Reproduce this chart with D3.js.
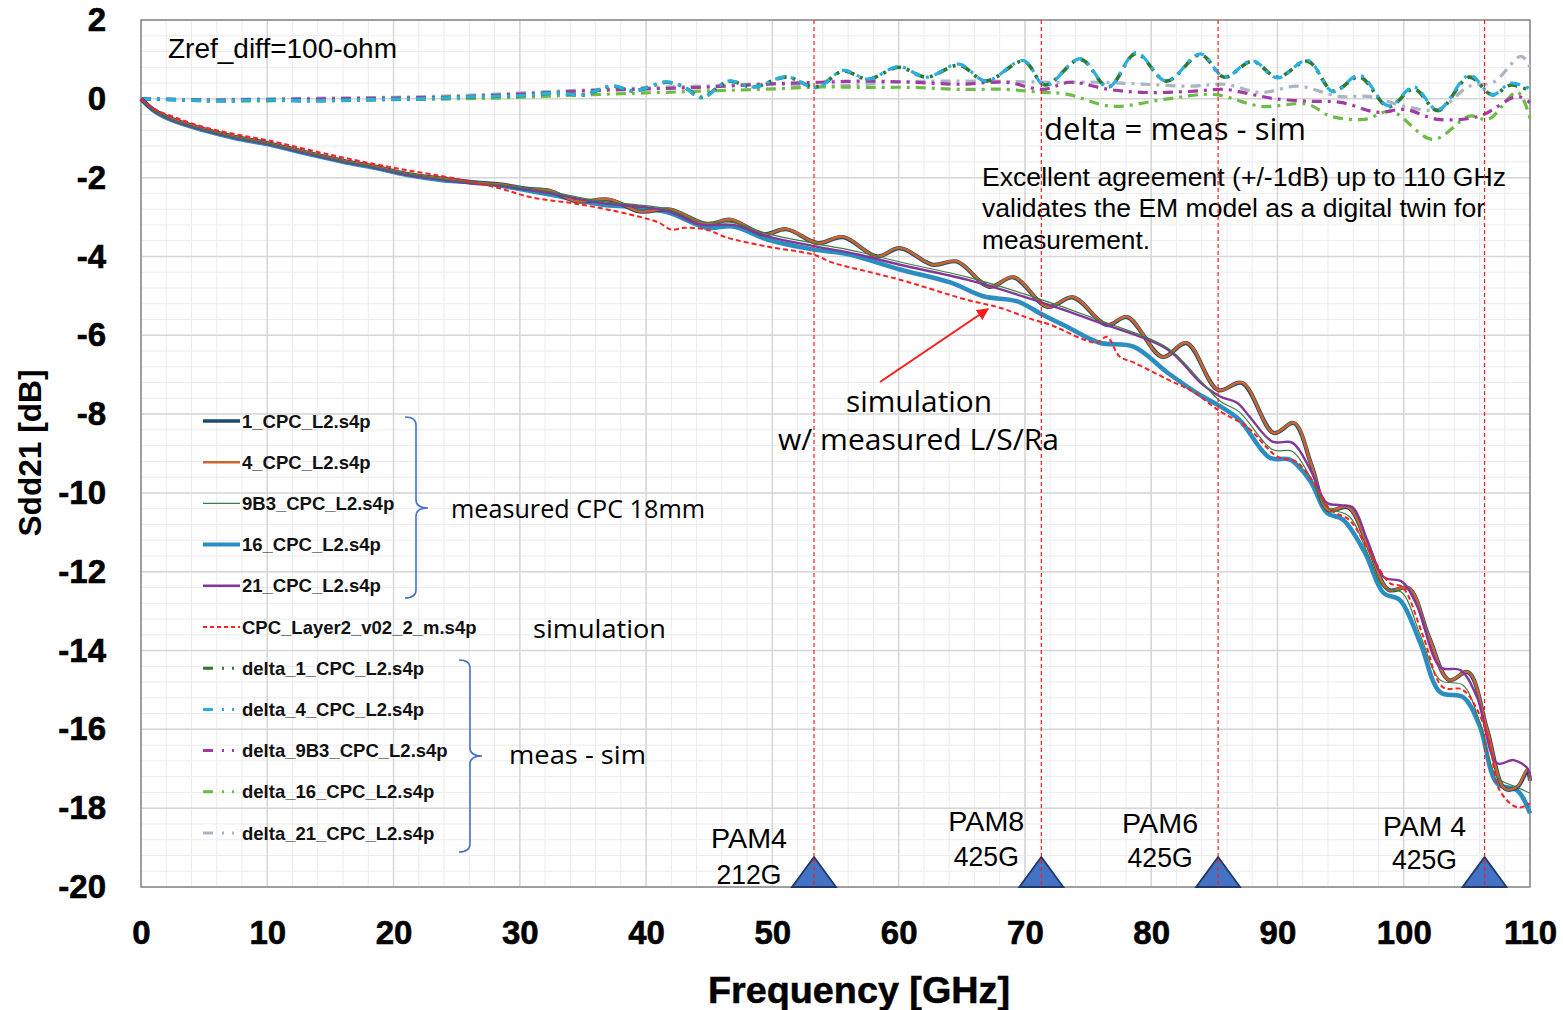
<!DOCTYPE html>
<html><head><meta charset="utf-8">
<script src="https://cdn.jsdelivr.net/npm/d3@7"></script>
<style>body{margin:0;background:#fff}svg{display:block}</style>
</head><body><svg id="c" width="1563" height="1010"></svg>
<script>
// ---------------- DATA ----------------
const xTicks = [0,10,20,30,40,50,60,70,80,90,100,110];
const yTicks = [2,0,-2,-4,-6,-8,-10,-12,-14,-16,-18,-20];

const f_meas1 = [0,1,2.5,5,7.5,10,13,16,18.5,21,24,26.5,28.4,30.5,32.4,34.5,37.1,39.5,41.9,44.8,46.7,49.3,51.1,53.6,55.6,58.3,60.1,62.7,64.6,67.2,69.1,71.8,73.8,76.5,78.1,80.9,82.8,85.3,87.2,89.7,91.3,92.7,94.0,95.6,97.2,98.8,100.4,102.0,103.6,105.1,106.6,108.0,109.0,109.8,110];
const db_meas1 = [0,-0.28,-0.52,-0.77,-0.97,-1.12,-1.35,-1.57,-1.72,-1.9,-2.03,-2.13,-2.17,-2.28,-2.34,-2.6,-2.56,-2.86,-2.81,-3.18,-3.07,-3.44,-3.31,-3.66,-3.51,-4.0,-3.79,-4.21,-4.13,-4.77,-4.53,-5.28,-5.04,-5.74,-5.54,-6.55,-6.2,-7.39,-7.21,-8.48,-8.23,-9.3,-10.43,-10.37,-11.37,-12.46,-12.42,-13.66,-14.75,-14.55,-16.0,-17.5,-17.46,-17.05,-17.3];
const f_meas4 = f_meas1;
const db_meas4 = [0,-0.28,-0.52,-0.77,-0.97,-1.12,-1.35,-1.57,-1.72,-1.9,-2.03,-2.13,-2.17,-2.28,-2.33,-2.6,-2.55,-2.86,-2.8,-3.18,-3.06,-3.44,-3.3,-3.66,-3.5,-4.0,-3.78,-4.21,-4.12,-4.77,-4.52,-5.28,-5.03,-5.74,-5.53,-6.55,-6.19,-7.39,-7.2,-8.48,-8.22,-9.3,-10.43,-10.36,-11.37,-12.46,-12.41,-13.66,-14.75,-14.54,-16.0,-17.5,-17.45,-17.0,-17.3];
const f_meas9B3 = [0,1,2.5,5,7.5,10,13,16,18.5,21,24,26.5,28.4,32.4,36.4,39.0,41.7,44.3,46.9,49.6,53.5,56.8,60.1,65.4,70.6,75.9,81.3,83.9,85.5,87.0,89.6,91.2,92.6,93.9,95.7,97.1,98.4,99.9,101.3,102.9,104.7,106.0,107.4,109.0,110];
const db_meas9B3 = [0,-0.29,-0.53,-0.78,-0.98,-1.13,-1.36,-1.58,-1.73,-1.9,-2.04,-2.14,-2.18,-2.36,-2.6,-2.68,-2.8,-3.12,-3.14,-3.42,-3.68,-3.88,-4.14,-4.52,-5.02,-5.62,-6.32,-7.15,-7.68,-7.95,-8.9,-8.95,-9.6,-10.35,-10.6,-11.5,-12.39,-12.54,-13.6,-14.75,-14.88,-15.8,-17.22,-17.47,-17.62];
const f_meas16 = [0,1,2.5,5,7.5,10,13,16,18.5,21,24,26.5,28.4,32.4,36.4,39.0,41.7,44.8,46.9,49.6,53.2,56.1,60.1,64.1,66.7,69.4,71.4,73.3,75.9,78.6,81.3,83.6,85.5,87.0,89.4,91.0,92.6,93.9,95.2,96.9,98.4,99.7,101.3,102.9,104.7,106.0,107.4,109.0,110];
const db_meas16 = [0,-0.3,-0.55,-0.8,-1.0,-1.15,-1.38,-1.6,-1.75,-1.93,-2.07,-2.12,-2.2,-2.43,-2.68,-2.75,-2.88,-3.27,-3.24,-3.57,-3.82,-3.95,-4.33,-4.66,-5.01,-5.14,-5.48,-5.78,-6.19,-6.29,-6.95,-7.46,-7.81,-8.15,-9.11,-9.16,-9.7,-10.5,-10.68,-11.5,-12.54,-12.72,-13.8,-15.06,-15.18,-15.9,-17.37,-17.55,-18.13];
const f_meas21 = [0,1,2.5,5,7.5,10,13,16,18.5,21,24,26.5,28.4,32.4,36.4,39.0,41.7,44.3,46.9,49.6,53.5,56.8,60.1,65.4,70.6,75.9,81.3,83.9,85.5,86.8,87.8,89.6,91.2,92.6,93.9,95.0,96.0,97.1,98.4,99.9,101.1,102.9,104.5,105.8,107.4,108.7,109.8,110];
const db_meas21 = [0,-0.29,-0.54,-0.79,-0.99,-1.14,-1.37,-1.59,-1.74,-1.92,-2.06,-2.16,-2.2,-2.4,-2.64,-2.72,-2.85,-3.19,-3.2,-3.49,-3.75,-3.95,-4.21,-4.59,-5.09,-5.68,-6.36,-7.2,-7.56,-7.71,-8.07,-8.7,-8.73,-9.41,-10.25,-10.31,-10.38,-11.19,-12.13,-12.26,-12.9,-14.42,-14.5,-15.18,-16.86,-16.78,-16.99,-17.22];
const f_sim = [0,1,2.5,5,7.5,10,15,20,25,28.4,30.9,34.8,38.8,41.0,42.0,43.1,44.8,46.4,49.6,53.2,54.8,57.5,60.1,65.4,68.0,70.6,72.0,74.6,75.7,76.5,77.5,78.6,81.3,83.3,85.5,87.5,90.0,91.5,93.0,94.2,95.7,97.3,98.9,99.9,101.5,103.1,104.7,106.6,107.6,109.0,110];
const db_sim = [0,-0.25,-0.45,-0.72,-0.9,-1.05,-1.42,-1.75,-2.03,-2.27,-2.5,-2.68,-2.94,-3.14,-3.32,-3.27,-3.32,-3.52,-3.75,-3.95,-4.16,-4.38,-4.59,-5.1,-5.3,-5.6,-5.73,-6.1,-6.19,-6.04,-6.54,-6.69,-7.12,-7.43,-7.94,-8.3,-9.08,-9.21,-9.8,-10.43,-10.69,-11.5,-12.29,-12.39,-13.6,-14.93,-15.0,-16.1,-17.55,-17.98,-17.88];

const f_delta1 = [0,3,6,10,14,18,22,26,30,33,35,37.3,39,41.6,43,44.4,46.5,48.5,51.1,53.5,55.6,57.6,60.0,62.2,64.8,66.9,69.9,71.6,74.4,76.6,78.8,81.2,83.9,85.8,88.0,90.0,92.4,94.4,96.5,98.8,100.8,102.7,105.2,107.0,108.5,110];
const db_delta1 = [0,-0.02,-0.05,-0.03,-0.05,-0.02,0.0,0.05,0.08,0.15,0.1,0.32,0.2,0.42,0.3,0.04,0.44,0.3,0.55,0.3,0.7,0.5,0.8,0.55,0.85,0.45,0.95,0.35,1.0,0.3,1.15,0.45,1.12,0.55,0.95,0.55,0.95,0.2,0.55,-0.2,0.25,-0.3,0.55,0.1,0.35,0.2];
const f_delta4 = f_delta1;
const db_delta4 = [0,-0.02,-0.05,-0.03,-0.05,-0.02,0.0,0.05,0.08,0.15,0.1,0.33,0.2,0.43,0.3,0.02,0.45,0.3,0.56,0.28,0.72,0.5,0.82,0.55,0.88,0.45,0.97,0.33,1.02,0.3,1.17,0.45,1.14,0.55,0.97,0.53,0.98,0.18,0.6,-0.18,0.3,-0.28,0.6,0.1,0.4,0.25];
const f_delta9B3 = [0,5,10,15,20,25,30,35,40,45,50,53.8,57.4,61.1,64.8,68.5,71.4,73.6,76.6,79.5,83.2,85.8,88.0,89.8,92.4,95.0,97.9,100.1,102.7,106.0,109.0,110];
const db_delta9B3 = [0,-0.03,-0.02,0.0,0.02,0.05,0.12,0.2,0.25,0.3,0.38,0.42,0.45,0.42,0.37,0.42,0.24,0.42,0.24,0.16,0.19,0.24,0.11,0.0,-0.06,-0.09,-0.34,-0.27,-0.52,-0.44,0.06,-0.1];
const f_delta16 = [0,5,10,15,20,25,30,35,40,45,50,53.8,57.4,61.1,64.8,68.5,71.1,73.3,76.9,81.3,85.0,88.7,92.4,94.2,96.9,99.0,102.3,105.2,106.7,109.0,110];
const db_delta16 = [0,-0.05,-0.05,-0.04,-0.02,0.0,0.04,0.1,0.15,0.2,0.25,0.3,0.29,0.29,0.24,0.24,0.17,0.12,-0.19,0.0,0.11,-0.19,-0.14,-0.44,-0.52,-0.32,-1.03,-0.44,-0.52,0.17,-0.5];
const f_delta21 = [0,5,10,15,20,25,30,35,40,45,50,53.8,61.1,68.5,72.2,75.9,79.5,83.2,85.8,88.7,91.6,94.9,97.2,100.1,102.7,105.2,107.1,109.3,110];
const db_delta21 = [0,-0.02,0.0,0.02,0.04,0.08,0.15,0.22,0.28,0.33,0.38,0.32,0.44,0.44,0.42,0.42,0.37,0.32,0.37,0.16,0.32,0.06,0.06,-0.19,-0.27,0.32,0.42,1.08,0.8];

const markerFreqs = [53.3, 71.3, 85.3, 106.4];
const markerLabels = [["PAM4","212G"],["PAM8","425G"],["PAM6","425G"],["PAM 4","425G"]];

const legendNames = ["1_CPC_L2.s4p","4_CPC_L2.s4p","9B3_CPC_L2.s4p","16_CPC_L2.s4p","21_CPC_L2.s4p","CPC_Layer2_v02_2_m.s4p","delta_1_CPC_L2.s4p","delta_4_CPC_L2.s4p","delta_9B3_CPC_L2.s4p","delta_16_CPC_L2.s4p","delta_21_CPC_L2.s4p"];

// ---------------- CHART ----------------
const svg = d3.select("#c");
const L=141, R=1530, T=20, B=887;
const x = d3.scaleLinear().domain([0,110]).range([L,R]);
const y = d3.scaleLinear().domain([-20,2]).range([B,T]);

// grid
const g = svg.append("g");
g.selectAll(".vmin").data(d3.range(0,110.001,2)).join("line")
  .attr("x1",d=>x(d)).attr("x2",d=>x(d)).attr("y1",T).attr("y2",B)
  .attr("stroke","#ececec").attr("stroke-width",1);
g.selectAll(".hmin").data(d3.range(-20,2.001,0.4)).join("line")
  .attr("y1",d=>y(d)).attr("y2",d=>y(d)).attr("x1",L).attr("x2",R)
  .attr("stroke","#ececec").attr("stroke-width",1);
g.selectAll(".vmaj").data(xTicks).join("line")
  .attr("x1",d=>x(d)).attr("x2",d=>x(d)).attr("y1",T).attr("y2",B)
  .attr("stroke","#d6d6d6").attr("stroke-width",1.5);
g.selectAll(".hmaj").data(yTicks).join("line")
  .attr("y1",d=>y(d)).attr("y2",d=>y(d)).attr("x1",L).attr("x2",R)
  .attr("stroke","#d6d6d6").attr("stroke-width",1.5);
svg.append("rect").attr("x",L).attr("y",T).attr("width",R-L).attr("height",B-T)
  .attr("fill","none").attr("stroke","#8a8a8a").attr("stroke-width",1.5);

// axes
const tickFont = "'Liberation Sans', Arial, sans-serif";
const ax = svg.append("g").attr("transform",`translate(0,${B})`)
  .call(d3.axisBottom(x).tickValues(xTicks).tickFormat(d=>String(d)).tickSize(0).tickPadding(34));
const ay = svg.append("g").attr("transform",`translate(${L},0)`)
  .call(d3.axisLeft(y).tickValues(yTicks).tickFormat(d=>String(d)).tickSize(0).tickPadding(35));
[ax,ay].forEach(a=>{
  a.select(".domain").remove();
  a.selectAll("text").attr("font-family",tickFont).attr("font-weight","bold")
   .attr("font-size",33).attr("fill","#000").attr("stroke","#000").attr("stroke-width",0.6);
});
svg.append("text").attr("x",859).attr("y",1003).attr("text-anchor","middle")
  .attr("font-family",tickFont).attr("font-weight","bold").attr("font-size",36)
  .attr("stroke","#000").attr("stroke-width",0.5)
  .attr("textLength",302).attr("lengthAdjust","spacingAndGlyphs")
  .text("Frequency [GHz]");
svg.append("text").attr("transform","translate(41,453) rotate(-90)").attr("text-anchor","middle")
  .attr("font-family",tickFont).attr("font-weight","bold").attr("font-size",31)
  .attr("textLength",167).attr("lengthAdjust","spacingAndGlyphs")
  .text("Sdd21 [dB]");

// lines
const line = d3.line().x(d=>x(d[0])).y(d=>y(d[1])).curve(d3.curveCatmullRom.alpha(0.5));
const zipd = (f,v)=>f.map((d,i)=>[d,v[i]]);
const plot = svg.append("g");
function draw(f,v,color,w,dash){
  plot.append("path").datum(zipd(f,v)).attr("d",line)
    .attr("fill","none").attr("stroke",color).attr("stroke-width",w)
    .attr("stroke-dasharray",dash||null).attr("stroke-linejoin","round");
}
const deltaDash = "10,6,3,6";
draw(f_delta21,db_delta21,"#a9b5c4",3.2,deltaDash);
draw(f_delta16,db_delta16,"#6cbd45",3.2,deltaDash);
draw(f_delta9B3,db_delta9B3,"#a23ba4",3.2,deltaDash);
draw(f_delta1,db_delta1,"#2f7a33",3.6,deltaDash);
draw(f_delta4,db_delta4,"#2aaee4",3.2,deltaDash);

draw(f_meas16,db_meas16,"#2c8dc0",4.5);
draw(f_meas1,db_meas1,"#1e4a6c",4.2);
draw(f_meas4,db_meas4,"#c9652d",2.6);
draw(f_meas21,db_meas21,"#82379a",2.4);
draw(f_meas9B3,db_meas9B3,"#3c7f3c",1.2);
draw(f_sim,db_sim,"#ff2020",2,"5,3");

// legend
const legColors = ["#1e4a6c","#c9652d","#3c7f3c","#2c8dc0","#82379a","#ff2020","#2f7a33","#2aaee4","#a23ba4","#6cbd45","#a9b5c4"];
const legWidths = [3.5,2.6,1.2,4,2.6,2,3,3,3,3,3];
const legDash = [null,null,null,null,null,"4,3","10,9,2,8,2,20","10,9,2,8,2,20","10,9,2,8,2,20","10,9,2,8,2,20","10,9,2,8,2,20"];
const leg = svg.append("g");
legendNames.forEach((n,i)=>{
  const cy = 421 + i*41.2;
  leg.append("line").attr("x1",203).attr("x2",240).attr("y1",cy).attr("y2",cy)
    .attr("stroke",legColors[i]).attr("stroke-width",legWidths[i]).attr("stroke-dasharray",legDash[i]);
  leg.append("text").attr("x",242).attr("y",cy+6.5).attr("font-family",tickFont)
    .attr("font-weight","bold").attr("font-size",18.5).attr("fill","#111").text(n);
});
// braces
const brace = (xv,y0,y1,ym,dx)=>`M${xv-11},${y0} Q${xv},${y0} ${xv},${y0+8} L${xv},${ym-8} Q${xv},${ym} ${xv+dx},${ym} Q${xv},${ym} ${xv},${ym+8} L${xv},${y1-8} Q${xv},${y1} ${xv-11},${y1}`;
svg.append("path").attr("d",brace(416,417,598,508,12)).attr("fill","none").attr("stroke","#4472c4").attr("stroke-width",1.6);
svg.append("path").attr("d",brace(470,660,852,756,12)).attr("fill","none").attr("stroke","#4472c4").attr("stroke-width",1.6);

// annotations
const sans = "'Open Sans','Noto Sans',sans-serif";
function txt(s,x0,y0,size,len,fam){
  const t = svg.append("text").attr("x",x0).attr("y",y0).attr("font-family",fam||sans)
    .attr("font-size",size).attr("fill","#000").text(s);
  if(len) t.attr("textLength",len).attr("lengthAdjust","spacingAndGlyphs");
  return t;
}
txt("Zref_diff=100-ohm",168,58,27,229,tickFont);
txt("Excellent agreement (+/-1dB) up to 110 GHz",982,186,25,524,tickFont);
txt("validates the EM model as a digital twin for",982,217,25,503,tickFont);
txt("measurement.",982,249,25,168,tickFont);
txt("delta = meas - sim",1044,140,31,262);
txt("simulation",846,412,29,146);
txt("w/ measured L/S/Ra",778,450,29,281);
txt("measured CPC 18mm",451,518,25,254);
txt("simulation",533,638,26,133);
txt("meas - sim",509,764,26,137);

// arrow
svg.append("defs").append("marker").attr("id","ah").attr("viewBox","0 0 10 10")
  .attr("refX",9).attr("refY",5).attr("markerWidth",6).attr("markerHeight",6)
  .attr("orient","auto").append("path").attr("d","M0,0 L10,5 L0,10 z").attr("fill","#ff1a1a");
svg.append("line").attr("x1",880).attr("y1",382).attr("x2",988).attr("y2",309)
  .attr("stroke","#ff1a1a").attr("stroke-width",2).attr("marker-end","url(#ah)");

// markers: triangles + labels + red dashed lines
const labOff = [[-65,848,884],[-55,831,866],[-58,833,867],[-60,836,869]];
markerFreqs.forEach((f,i)=>{
  const cx = x(f);
  svg.append("path").attr("d",`M${cx-22},${B} L${cx},${B-30} L${cx+22},${B} Z`)
    .attr("fill","#4472c4").attr("stroke","#1f3864").attr("stroke-width",1.8);
  const lx = cx + labOff[i][0];
  const w1 = markerLabels[i][0].length>4 ? 83 : 76;
  svg.append("text").attr("x",lx).attr("y",labOff[i][1]).attr("text-anchor","middle")
    .attr("font-family",tickFont).attr("font-size",28).attr("textLength",w1).attr("lengthAdjust","spacingAndGlyphs")
    .text(markerLabels[i][0]);
  svg.append("text").attr("x",lx).attr("y",labOff[i][2]).attr("text-anchor","middle")
    .attr("font-family",tickFont).attr("font-size",28).attr("textLength",65).attr("lengthAdjust","spacingAndGlyphs")
    .text(markerLabels[i][1]);
});
svg.selectAll(".vred").data(markerFreqs).join("line")
  .attr("x1",d=>x(d)).attr("x2",d=>x(d)).attr("y1",T).attr("y2",B)
  .attr("stroke","#ff1a1a").attr("stroke-width",1.2).attr("stroke-dasharray","4,3");
</script></body></html>
